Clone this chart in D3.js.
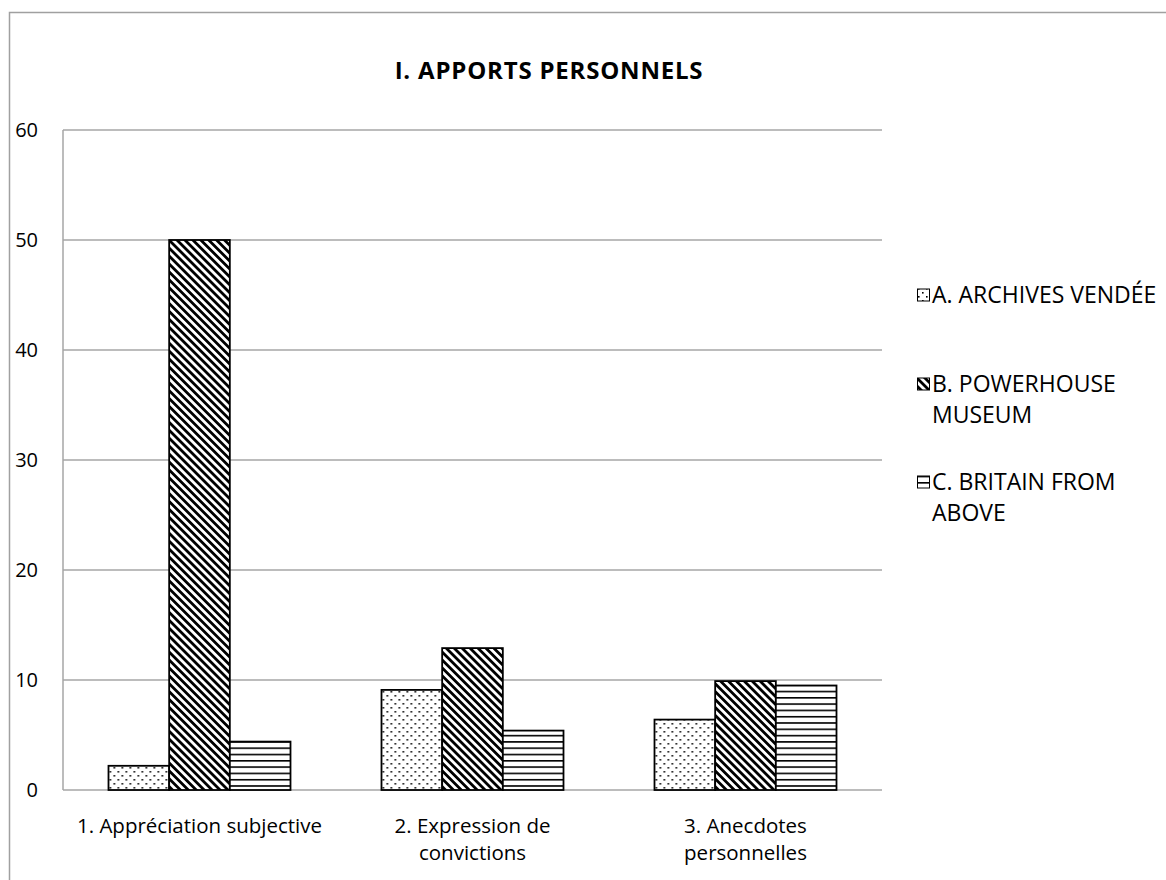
<!DOCTYPE html>
<html>
<head>
<meta charset="utf-8">
<script src="https://cdn.jsdelivr.net/npm/d3@7"></script>
<style>
  body { margin: 0; background: #fff; }
  svg { display: block; }
  text { font-family: "Open Sans", Lato, sans-serif; fill: #000; }
</style>
</head>
<body>
<svg id="chart" width="1166" height="880"></svg>
<script>
// Categories (x axis), each label split into lines
const categories = ["1. Appréciation subjective", "2. Expression de convictions", "3. Anecdotes personnelles"];
const categoryLines = [["1. Appréciation subjective"], ["2. Expression de", "convictions"], ["3. Anecdotes", "personnelles"]];

// Series
const seriesNames = ["A. ARCHIVES VENDÉE", "B. POWERHOUSE MUSEUM", "C. BRITAIN FROM ABOVE"];
const legendLines = [["A. ARCHIVES VENDÉE"], ["B. POWERHOUSE", "MUSEUM"], ["C. BRITAIN FROM", "ABOVE"]];
const seriesA = [2.2, 9.1, 6.4];
const seriesB = [50, 12.9, 9.9];
const seriesC = [4.4, 5.4, 9.5];
const seriesValues = [seriesA, seriesB, seriesC];

const yTicks = [0, 10, 20, 30, 40, 50, 60];
const title = "I. APPORTS PERSONNELS";

const svg = d3.select("#chart");
const margin = { left: 63, right: 1166 - 882, top: 130, bottom: 880 - 790 };
const plotW = 1166 - margin.left - margin.right;
const plotH = 880 - margin.top - margin.bottom;

// Fill patterns: dots, back-diagonal stripes, horizontal stripes
const defs = svg.append("defs");
const dots = defs.append("pattern").attr("id", "pat-dots")
  .attr("patternUnits", "userSpaceOnUse").attr("width", 8).attr("height", 8);
dots.append("rect").attr("width", 8).attr("height", 8).attr("fill", "#fff");
dots.append("rect").attr("x", 1).attr("y", 1).attr("width", 1.6).attr("height", 1.6).attr("fill", "#000");
dots.append("rect").attr("x", 5).attr("y", 5).attr("width", 1.6).attr("height", 1.6).attr("fill", "#000");

const diag = defs.append("pattern").attr("id", "pat-diag")
  .attr("patternUnits", "userSpaceOnUse").attr("width", 5.6).attr("height", 5.6)
  .attr("patternTransform", "rotate(45)");
diag.append("rect").attr("width", 5.6).attr("height", 5.6).attr("fill", "#fff");
diag.append("rect").attr("x", 0).attr("y", 0).attr("width", 5.6).attr("height", 2.8).attr("fill", "#000");

const horiz = defs.append("pattern").attr("id", "pat-horiz")
  .attr("patternUnits", "userSpaceOnUse").attr("width", 8).attr("height", 6.3);
horiz.append("rect").attr("width", 8).attr("height", 6.3).attr("fill", "#fff");
horiz.append("rect").attr("x", 0).attr("y", 0).attr("width", 8).attr("height", 1.6).attr("fill", "#000");

const fills = ["url(#pat-dots)", "url(#pat-diag)", "url(#pat-horiz)"];

// Outer chart frame
svg.append("rect").attr("x", 9.5).attr("y", 12.5).attr("width", 1170).attr("height", 880)
  .attr("fill", "none").attr("stroke", "#a0a0a0").attr("stroke-width", 1.5);

const g = svg.append("g").attr("transform", `translate(${margin.left},${margin.top})`);

const y = d3.scaleLinear().domain([0, 60]).range([plotH, 0]);
const x0 = d3.scaleBand().domain(categories).range([0, plotW]).paddingInner(1 / 3).paddingOuter(1 / 6);
const x1 = d3.scaleBand().domain(seriesNames).range([0, x0.bandwidth()]);

// Gridlines
g.append("g").selectAll("line").data(yTicks).join("line")
  .attr("x1", 0).attr("x2", plotW)
  .attr("y1", d => y(d)).attr("y2", d => y(d))
  .attr("stroke", "#a6a6a6").attr("stroke-width", 1.5);
g.append("line").attr("x1", 0).attr("x2", 0).attr("y1", 0).attr("y2", plotH)
  .attr("stroke", "#a6a6a6").attr("stroke-width", 1.5);

// Y axis labels
const yAxis = d3.axisLeft(y).tickValues(yTicks).tickSize(0).tickPadding(25);
const yg = g.append("g").call(yAxis);
yg.select(".domain").remove();
yg.selectAll("text").attr("font-size", 20).attr("font-family", "'Open Sans', sans-serif").attr("fill", "#000");

// Bars
const groups = g.append("g").selectAll("g").data(categories).join("g")
  .attr("transform", d => `translate(${x0(d)},0)`);
groups.selectAll("rect")
  .data((c, ci) => seriesNames.map((s, si) => ({ s, si, v: seriesValues[si][ci] })))
  .join("rect")
  .attr("x", d => x1(d.s))
  .attr("y", d => y(d.v))
  .attr("width", x1.bandwidth())
  .attr("height", d => y(0) - y(d.v))
  .attr("fill", d => fills[d.si])
  .attr("stroke", "#000").attr("stroke-width", 1.8);

// Category labels
const xl = g.append("g").selectAll("text").data(categories).join("text")
  .attr("text-anchor", "middle")
  .attr("x", d => x0(d) + x0.bandwidth() / 2)
  .attr("y", plotH + 43)
  .attr("font-size", 20.5);
xl.selectAll("tspan").data((d, i) => categoryLines[i]).join("tspan")
  .attr("x", function () { return d3.select(this.parentNode).attr("x"); })
  .attr("dy", (d, i) => i === 0 ? 0 : 27)
  .text(d => d);

// Title, centred over the whole chart area
svg.append("text").attr("x", 549).attr("y", 79)
  .attr("text-anchor", "middle").attr("font-size", 24).attr("font-weight", "bold")
  .attr("letter-spacing", 0.8)
  .text(title);

// Legend
const legendY = [295, 384, 482];
const lg = svg.append("g").selectAll("g").data(seriesNames).join("g")
  .attr("transform", (d, i) => `translate(917,${legendY[i]})`);
lg.append("rect").attr("x", 0.5).attr("y", -6).attr("width", 12).attr("height", 12)
  .attr("fill", (d, i) => fills[i]).attr("stroke", "#000").attr("stroke-width", 1);
const lt = lg.append("text").attr("x", 15).attr("y", 8).attr("font-size", 23);
lt.selectAll("tspan").data((d, i) => legendLines[i]).join("tspan")
  .attr("x", 15).attr("dy", (d, i) => i === 0 ? 0 : 31).text(d => d);
</script>
</body>
</html>
